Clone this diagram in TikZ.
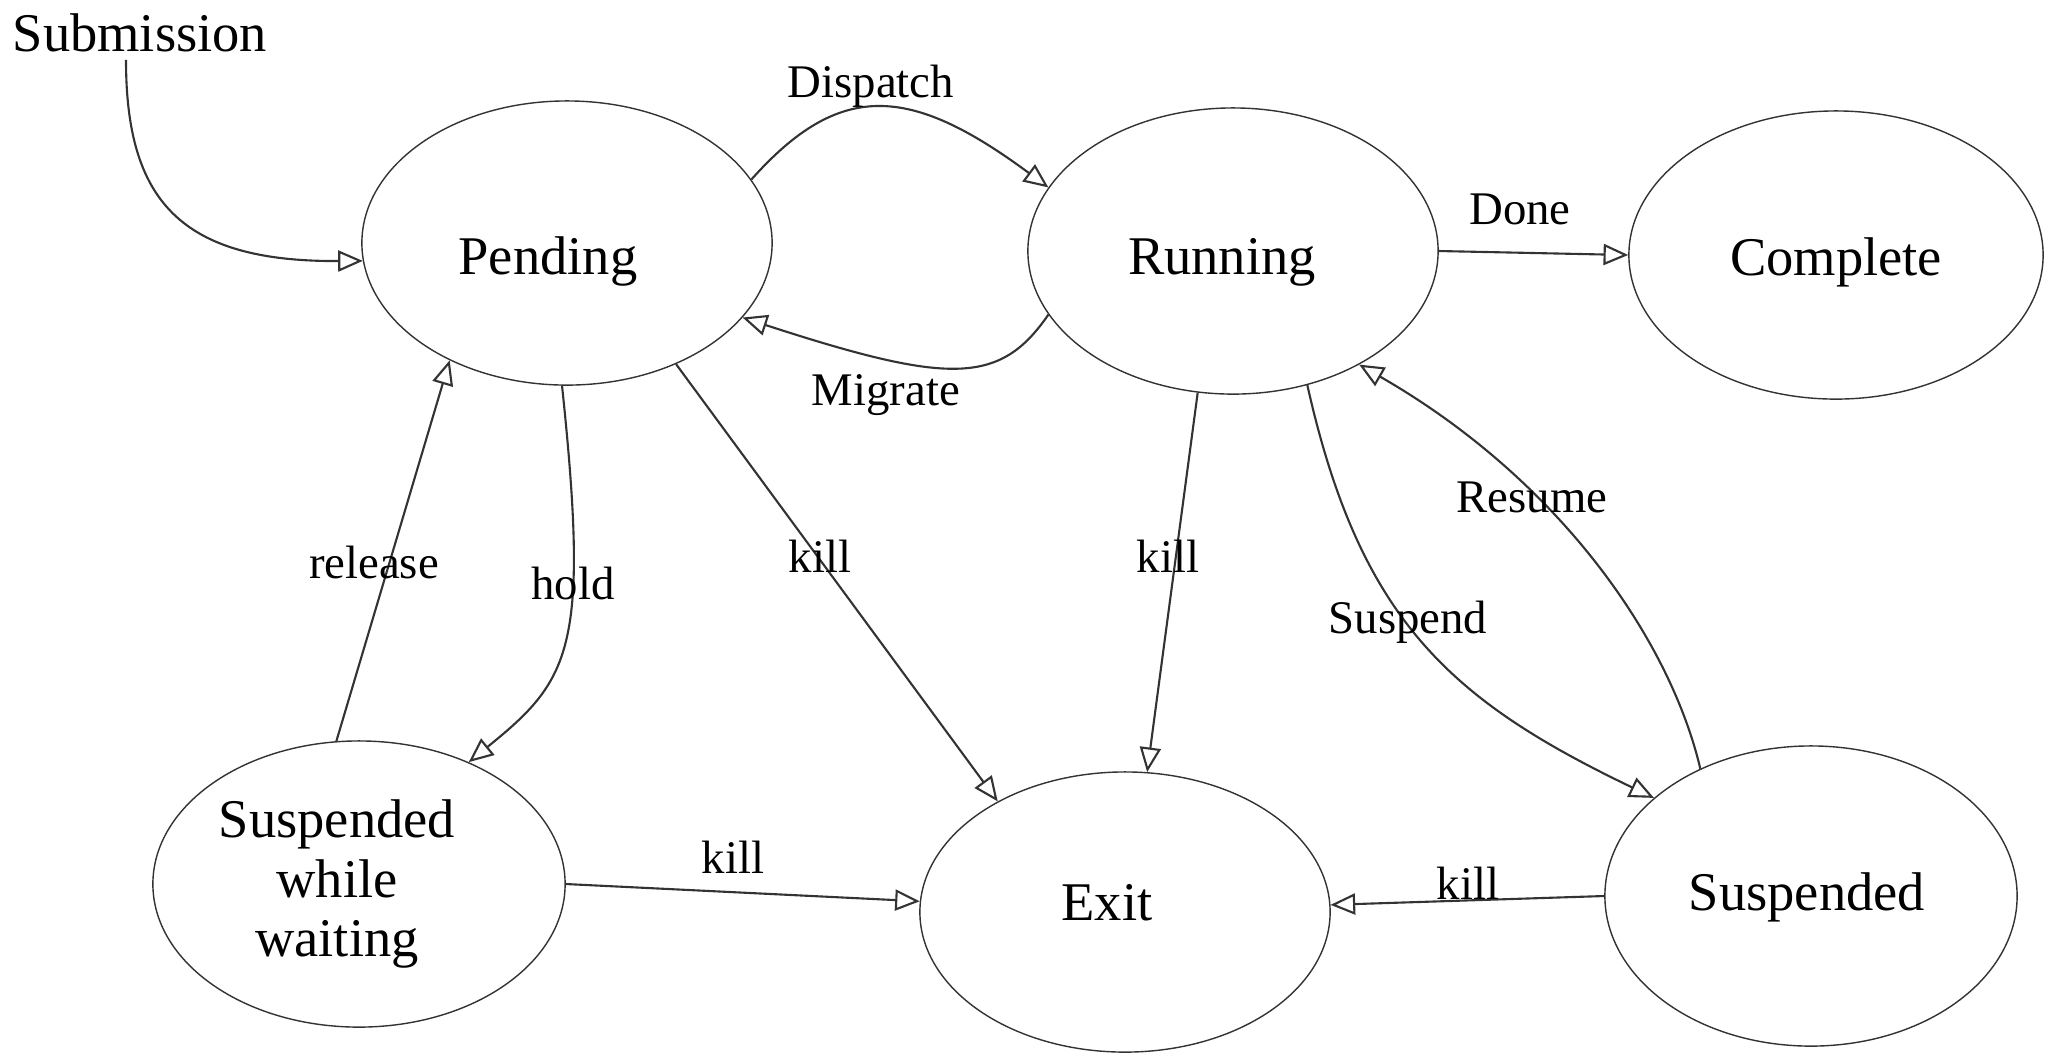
\documentclass[tikz,border=0pt]{standalone}
\usepackage{fontspec}
\setmainfont{Liberation Serif}
\usetikzlibrary{shapes.geometric,arrows.meta}

\begin{document}
\begin{tikzpicture}[x=0.01cm, y=-0.01cm,
        state/.style={draw=black!80, ellipse, inner sep=0pt},
        stext/.style={inner sep=0pt, align=center, font=\fontsize{15.5}{16.8}\selectfont},
        edge/.style={draw=black!80, line width=0.6pt,
            -{Triangle[open, length=7pt, width=6pt]}},
        lbl/.style={inner sep=0pt, font=\fontsize{13.3}{15}\selectfont}]
            \useasboundingbox (0,0) rectangle (2051,1056);
            \node[state, minimum width=4.1cm, minimum height=2.84cm,
                label={[stext, shift={(-19,18)}]center:Pending}] (pend) at (567,243) {};
            \node[state, minimum width=4.1cm, minimum height=2.86cm,
                label={[stext, shift={(-11,11)}]center:Running}] (run) at (1233,251) {};
            \node[state, minimum width=4.14cm, minimum height=2.88cm,
                label={[stext, shift={(0,7)}]center:Complete}] (comp) at (1836,255) {};
            \node[state, minimum width=4.12cm, minimum height=2.86cm,
                label={[stext, shift={(-22,0)}]center:Suspended\\while\\waiting}] (sww) at (359,884) {};
            \node[state, minimum width=4.1cm, minimum height=2.8cm,
                label={[stext, shift={(-18,-9)}]center:Exit}] (exit) at (1125,912) {};
            \node[state, minimum width=4.12cm, minimum height=3cm,
                label={[stext, shift={(-4,1)}]center:Suspended}] (susp) at (1811,896) {};
            \node[stext] (sub) at (140,33) {Submission};

            \draw[edge] ([shift={(-14,7)}]sub.south) .. controls (126,200) and (180,262) .. (pend.185);
            \draw[edge] (pend.19) .. controls (840,80) and (910,85) .. (run.161);
            \node[lbl] (ldisp) at (871,86) {Dispatch};
            \draw[edge] (run.199) .. controls (1000,385) and (950,385) .. (pend.-23);
            \node[lbl] (lmig) at (886,395) {Migrate};
            \draw[edge] (run.east) -- (comp.west);
            \node[lbl] (ldone) at (1520,209) {Done};

            \draw[edge] (pend.268) .. controls (590,650) and (570,680) .. (sww.48);
            \node[lbl] (lhold) at (573,583) {hold};
            \draw[edge] (sww.99) -- (pend.225);
            \node[lbl] (lrel) at (374,562) {release};
            \draw[edge] (pend.-48) -- (exit.139);
            \node[lbl] (lkpend) at (820,556) {kill};
            \draw[edge] (run.256) -- (exit.81);
            \node[lbl] (lkrun) at (1168,556) {kill};

            \draw[edge] (run.-61) .. controls (1360,620) and (1450,700) .. (susp.148);
            \node[lbl] (lsusp) at (1408,622) {Suspend};
            \draw[edge] (susp.131) .. controls (1670,640) and (1560,480) .. (run.-42);
            \node[lbl] (lres) at (1532,497) {Resume};

            \draw[edge] (sww.east) -- (exit.177);
            \node[lbl] (lksww) at (733,857) {kill};
            \draw[edge] (susp.west) -- (exit.2);
            \node[lbl] (lksusp) at (1468,883) {kill};
        \end{tikzpicture}
\end{document}
